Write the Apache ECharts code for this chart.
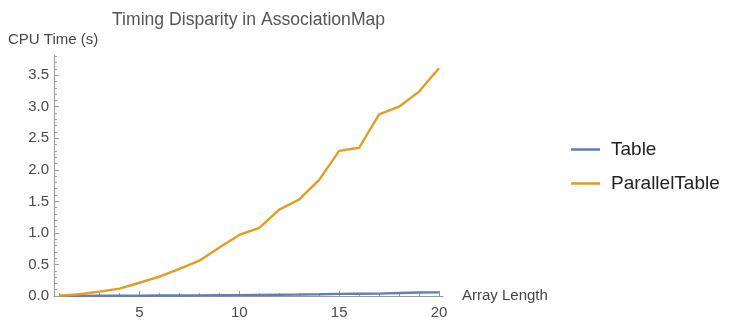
<!DOCTYPE html>
<html>
<head>
<meta charset="utf-8">
<script src="https://cdn.jsdelivr.net/npm/echarts@6/dist/echarts.min.js"></script>
<style>
html,body{margin:0;padding:0;background:#fff;}
#chart{width:747px;height:331px;}
</style>
</head>
<body>
<div id="chart"></div>
<script>
var arrayLength = [1,2,3,4,5,6,7,8,9,10,11,12,13,14,15,16,17,18,19,20];
var tableTimes = [0.001,0.002,0.003,0.004,0.005,0.007,0.008,0.010,0.012,0.014,0.017,0.020,0.023,0.027,0.033,0.036,0.038,0.048,0.055,0.058];
var parallelTimes = [0.005,0.027,0.07,0.116,0.21,0.306,0.43,0.56,0.77,0.967,1.08,1.37,1.53,1.84,2.30,2.35,2.88,3.0,3.24,3.61];
var xMajorTicks = [5,10,15,20];
var xMinorTicks = [1,2,3,4,6,7,8,9,11,12,13,14,16,17,18,19];
var yMajorTicks = [0,0.5,1,1.5,2,2.5,3,3.5];
var yMinorTicks = [0.1,0.2,0.3,0.4,0.6,0.7,0.8,0.9,1.1,1.2,1.3,1.4,1.6,1.7,1.8,1.9,2.1,2.2,2.3,2.4,2.6,2.7,2.8,2.9,3.1,3.2,3.3,3.4,3.6,3.7,3.8];

function pairs(xs, ys){ return xs.map(function(x,i){ return [x, ys[i]]; }); }

var FONT = '"Liberation Sans", Arial, sans-serif';
var axisColor = '#9a9a9a';
var labelColor = '#4a4a4a';
var X_MIN = 0.72, X_MAX = 20.2, Y_MIN = 0, Y_MAX = 3.82;

var chart = echarts.init(document.getElementById('chart'), null, {renderer:'canvas'});
chart.setOption({
  backgroundColor:'#ffffff',
  animation:false,
  title:{
    text:'Timing Disparity in AssociationMap',
    left:107, top:6,
    textStyle:{fontFamily:FONT, fontSize:17.6, fontWeight:'normal', color:'#555555'}
  },
  graphic:[{
    type:'text', left:8, top:32,
    style:{text:'CPU Time (s)', font:'15px ' + FONT, fill:'#444444'}
  }],
  legend:{
    orient:'vertical', left:566, top:135,
    itemWidth:29, itemHeight:2.5, itemGap:15,
    icon:'rect',
    textStyle:{fontFamily:FONT, fontSize:19, color:'#222222', padding:[0,0,0,6]},
    data:['Table','ParallelTable']
  },
  grid:{left:54, right:304, top:55, bottom:35, containLabel:false},
  xAxis:[{
    type:'value', min:X_MIN, max:X_MAX,
    name:'Array Length', nameLocation:'end', nameGap:19,
    nameTextStyle:{fontFamily:FONT, fontSize:15, color:'#444444', verticalAlign:'middle'},
    axisLine:{show:true, lineStyle:{color:axisColor, width:1}},
    axisTick:{show:true, inside:true, length:5, customValues:xMajorTicks, lineStyle:{color:axisColor}},
    axisLabel:{show:true, customValues:xMajorTicks, margin:9, fontFamily:FONT, fontSize:15, color:labelColor},
    splitLine:{show:false}
  },{
    type:'value', min:X_MIN, max:X_MAX, position:'bottom',
    axisLine:{show:false},
    axisTick:{show:true, inside:true, length:3, customValues:xMinorTicks, lineStyle:{color:axisColor}},
    axisLabel:{show:false},
    splitLine:{show:false}
  }],
  yAxis:[{
    type:'value', min:Y_MIN, max:Y_MAX,
    axisLine:{show:true, lineStyle:{color:axisColor, width:1}},
    axisTick:{show:true, inside:true, length:5, customValues:yMajorTicks, lineStyle:{color:axisColor}},
    axisLabel:{show:true, customValues:yMajorTicks, margin:5, fontFamily:FONT, fontSize:15, color:labelColor,
      formatter:function(v){ return v.toFixed(1); }},
    splitLine:{show:false}
  },{
    type:'value', min:Y_MIN, max:Y_MAX, position:'left',
    axisLine:{show:false},
    axisTick:{show:true, inside:true, length:3, customValues:yMinorTicks, lineStyle:{color:axisColor}},
    axisLabel:{show:false},
    splitLine:{show:false}
  }],
  series:[{
    name:'Table', type:'line', xAxisIndex:0, yAxisIndex:0,
    data:pairs(arrayLength, tableTimes),
    showSymbol:false, symbol:'none',
    lineStyle:{color:'#5E81B5', width:2.4},
    itemStyle:{color:'#5E81B5'}
  },{
    name:'ParallelTable', type:'line', xAxisIndex:0, yAxisIndex:0,
    data:pairs(arrayLength, parallelTimes),
    showSymbol:false, symbol:'none',
    lineStyle:{color:'#E19C24', width:2.4},
    itemStyle:{color:'#E19C24'}
  }]
});
</script>
</body>
</html>
